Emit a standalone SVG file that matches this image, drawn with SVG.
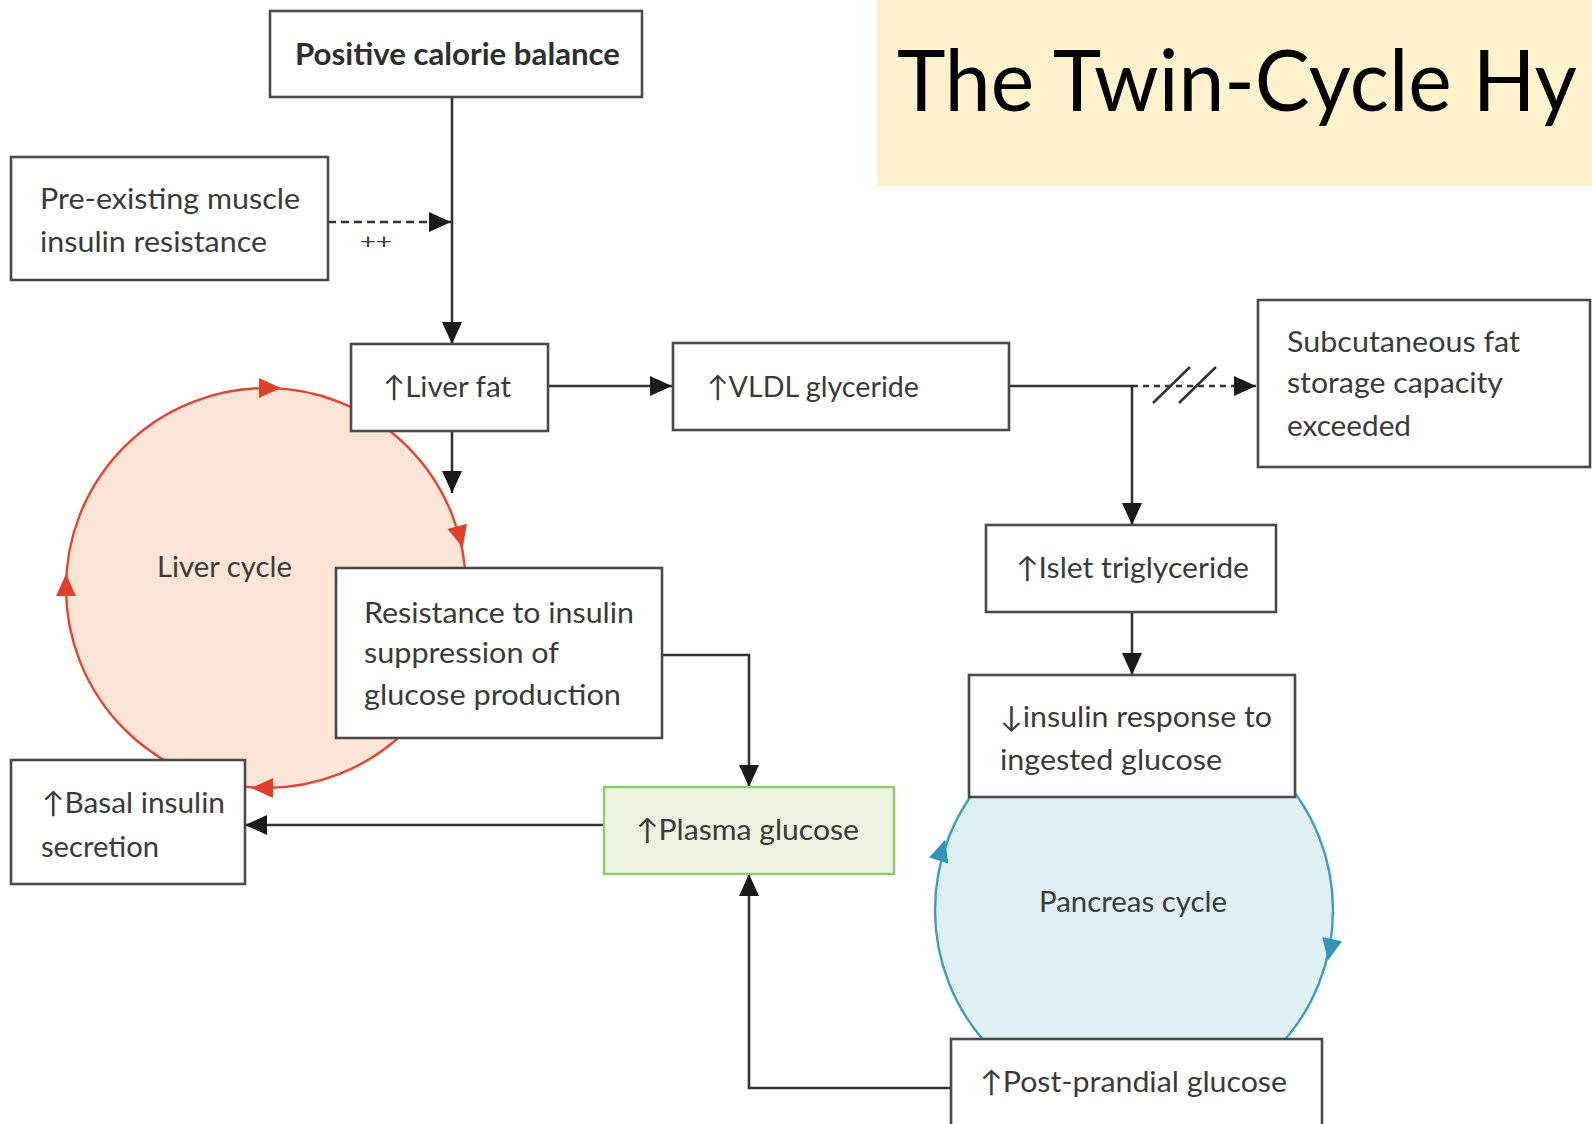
<svg xmlns="http://www.w3.org/2000/svg" width="1592" height="1124" viewBox="0 0 1592 1124">
<style>
.box{fill:#ffffff;stroke:#4a4a4a;stroke-width:2.6}
.t{font-family:Lato,"Open Sans","DejaVu Sans",sans-serif;font-size:29px;fill:#3a3a3a}
.b{font-weight:bold;fill:#2e2e2e}
.ln{fill:none;stroke:#333333;stroke-width:2.6}
.dash{stroke-dasharray:8 5}
.dash2{stroke-dasharray:6 5}
</style>
<defs>
<marker id="arr" markerUnits="userSpaceOnUse" markerWidth="24" markerHeight="22" viewBox="0 0 24 22" refX="22" refY="11" orient="auto">
<path d="M0,1 L22,11 L0,21 Z" fill="#1a1a1a"/>
</marker>
<path id="tri" d="M11,0 L-11,-10 L-11,10 Z"/>
</defs>
<rect width="1592" height="1124" fill="#ffffff"/>

<g id="title">
<rect x="877" y="0" width="715" height="186" fill="#FFF2CC"/>
<text x="897" y="111" font-family="Lato,'Open Sans',sans-serif" font-size="86" fill="#000000" textLength="680" lengthAdjust="spacingAndGlyphs">The Twin-Cycle Hy</text>
</g>

<g id="liver-cycle">
<circle cx="266" cy="588" r="200" fill="#FCE4D6" stroke="#E5432D" stroke-width="2.4"/>
<g fill="#E0402A">
<use href="#tri" transform="translate(270,388) rotate(0)"/>
<use href="#tri" transform="translate(460,537) rotate(75.3)"/>
<use href="#tri" transform="translate(262,788) rotate(180)"/>
<use href="#tri" transform="translate(66,585) rotate(270)"/>
</g>
<text class="t" x="157" y="577" textLength="135" lengthAdjust="spacingAndGlyphs">Liver cycle</text>
</g>

<g id="pancreas-cycle">
<circle cx="1134" cy="910" r="199" fill="#DEF0F3" stroke="#3E9DBF" stroke-width="2.4"/>
<g fill="#3593B8">
<use href="#tri" transform="translate(942,850) rotate(287.7)"/>
<use href="#tri" transform="translate(1330,950) rotate(101.4)"/>
</g>
<text class="t" x="1039" y="912" textLength="188" lengthAdjust="spacingAndGlyphs">Pancreas cycle</text>
</g>

<g id="connectors">
<path class="ln" d="M452,97 V344" marker-end="url(#arr)"/>
<path class="ln dash" d="M328,222 H451" marker-end="url(#arr)"/>
<text class="t" x="360" y="249" textLength="32" lengthAdjust="spacingAndGlyphs" style="font-size:22px">++</text>
<path class="ln" d="M548,386 H672" marker-end="url(#arr)"/>
<path class="ln" d="M452,431 V493" marker-end="url(#arr)"/>
<path class="ln" d="M1009,386 H1132 V525" marker-end="url(#arr)"/>
<path class="ln dash2" d="M1132,386 H1256" marker-end="url(#arr)"/>
<path class="ln" d="M1153,403 L1190,367 M1179,403 L1216,367"/>
<path class="ln" d="M1132,612 V675" marker-end="url(#arr)"/>
<path class="ln" d="M662,655 H749 V787" marker-end="url(#arr)"/>
<path class="ln" d="M603,825 H245" marker-end="url(#arr)"/>
<path class="ln" d="M951,1088 H749 V874" marker-end="url(#arr)"/>
</g>

<g id="positive-calorie-balance">
<rect class="box" x="270" y="11" width="372" height="86"/>
<text class="t b" x="295" y="65" textLength="325" lengthAdjust="spacingAndGlyphs" style="font-size:30px">Positive calorie balance</text>
</g>

<g id="pre-existing-muscle">
<rect class="box" x="11" y="157" width="317" height="123"/>
<text class="t" x="40" y="209" textLength="260" lengthAdjust="spacingAndGlyphs">Pre-existing muscle</text>
<text class="t" x="40" y="252" textLength="227" lengthAdjust="spacingAndGlyphs">insulin resistance</text>
</g>

<g id="liver-fat">
<rect class="box" x="351" y="344" width="197" height="87"/>
<text class="t" x="383" y="397" textLength="128" lengthAdjust="spacingAndGlyphs">↑Liver fat</text>
</g>

<g id="vldl-glyceride">
<rect class="box" x="673" y="343" width="336" height="87"/>
<text class="t" x="707" y="397" textLength="212" lengthAdjust="spacingAndGlyphs">↑VLDL glyceride</text>
</g>

<g id="subcutaneous-fat">
<rect class="box" x="1258" y="300" width="332" height="167"/>
<text class="t" x="1287" y="352" textLength="233" lengthAdjust="spacingAndGlyphs">Subcutaneous fat</text>
<text class="t" x="1287" y="393" textLength="216" lengthAdjust="spacingAndGlyphs">storage capacity</text>
<text class="t" x="1287" y="436" textLength="124" lengthAdjust="spacingAndGlyphs">exceeded</text>
</g>

<g id="islet-triglyceride">
<rect class="box" x="986" y="525" width="290" height="87"/>
<text class="t" x="1016" y="578" textLength="233" lengthAdjust="spacingAndGlyphs">↑Islet triglyceride</text>
</g>

<g id="resistance-insulin">
<rect class="box" x="336" y="568" width="326" height="170"/>
<text class="t" x="364" y="623" textLength="270" lengthAdjust="spacingAndGlyphs">Resistance to insulin</text>
<text class="t" x="364" y="663" textLength="195" lengthAdjust="spacingAndGlyphs">suppression of</text>
<text class="t" x="364" y="705" textLength="257" lengthAdjust="spacingAndGlyphs">glucose production</text>
</g>

<g id="insulin-response">
<rect class="box" x="969" y="675" width="326" height="122"/>
<text class="t" x="1000" y="727" textLength="272" lengthAdjust="spacingAndGlyphs">↓insulin response to</text>
<text class="t" x="1000" y="770" textLength="222" lengthAdjust="spacingAndGlyphs">ingested glucose</text>
</g>

<g id="basal-insulin">
<rect class="box" x="11" y="760" width="234" height="124"/>
<text class="t" x="42" y="813" textLength="183" lengthAdjust="spacingAndGlyphs">↑Basal insulin</text>
<text class="t" x="41" y="857" textLength="118" lengthAdjust="spacingAndGlyphs">secretion</text>
</g>

<g id="plasma-glucose">
<rect x="604" y="787" width="290" height="87" fill="#EEF3E1" stroke="#8FCB68" stroke-width="2.4"/>
<text class="t" x="636" y="840" textLength="223" lengthAdjust="spacingAndGlyphs">↑Plasma glucose</text>
</g>

<g id="post-prandial-glucose">
<rect class="box" x="951" y="1039" width="371" height="95"/>
<text class="t" x="980" y="1092" textLength="307" lengthAdjust="spacingAndGlyphs">↑Post-prandial glucose</text>
</g>
</svg>
